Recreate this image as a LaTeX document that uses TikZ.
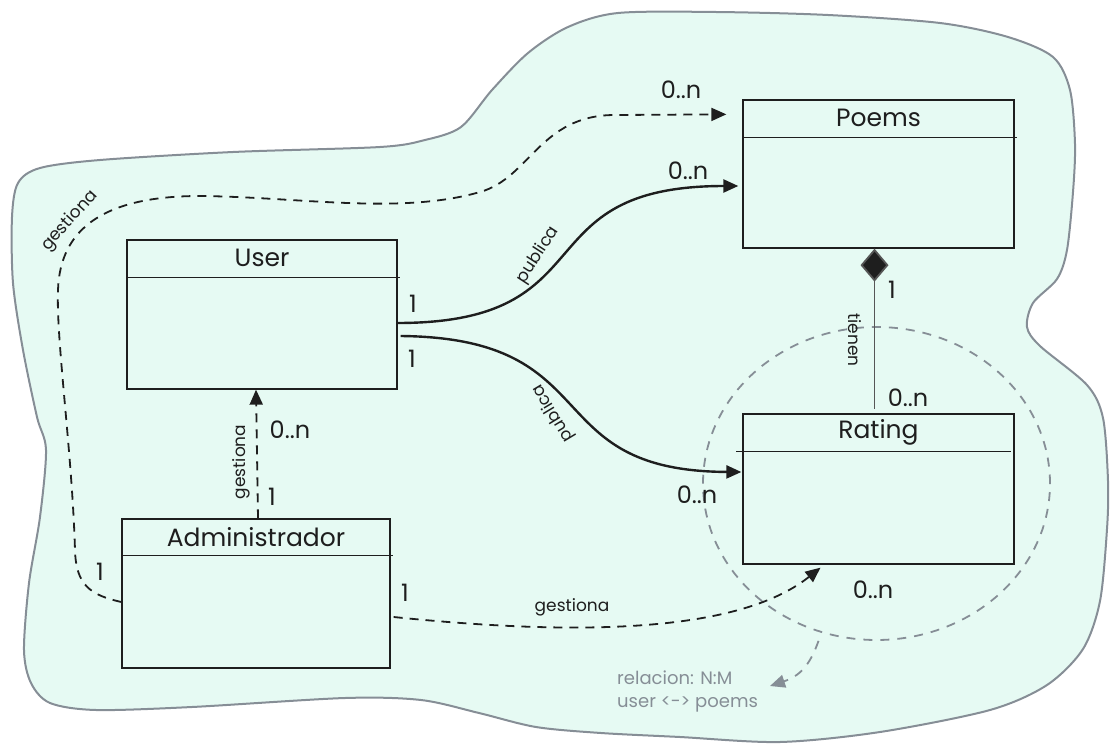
\documentclass[tikz,border=0pt]{standalone}
\usepackage{fontspec}
\setmainfont{Poppins}
\usetikzlibrary{arrows.meta,shapes.geometric}
\definecolor{blobfill}{HTML}{E6FAF3}
\definecolor{blobline}{HTML}{868E96}
\definecolor{ink}{HTML}{1E1E1E}
\tikzset{
  umlbox/.style={draw=ink, line width=1.3pt, inner sep=0pt},
  umltitle/.style={font=\fontsize{25}{27}\selectfont, text=ink, inner sep=0pt},
  mult/.style={font=\fontsize{24}{26}\selectfont, text=ink, inner sep=0pt},
  small/.style={font=\fontsize{17}{19}\selectfont, text=ink, inner sep=0pt},
  note/.style={font=\fontsize{18}{23}\selectfont, text=blobline, inner sep=0pt, align=left},
  solidarrow/.style={draw=ink, line width=2.4pt, -{Triangle[length=15pt,width=13pt]}},
  dasharrow/.style={draw=ink, line width=1.8pt, dash pattern=on 9pt off 7pt, -{Triangle[length=15pt,width=13pt]}},
  graydash/.style={draw=blobline, line width=1.8pt, dash pattern=on 9pt off 8pt},
}
\begin{document}
\begin{tikzpicture}[x=1pt,y=-1pt]
\useasboundingbox (0,0) rectangle (1119,752);
% background blob
\draw[blobline, line width=2pt, fill=blobfill] plot[smooth cycle, tension=0.5] coordinates {
 (40,168) (100,160) (233,152) (380,147) (425,140) (461,127) (492,90) (528,53) (568,27) (618,13)
 (716,12) (828,15) (940,23) (1008,37) (1053,57) (1070,90) (1075,144) (1073,192) (1067,250)
 (1057,279) (1033,303) (1027,327) (1040,346) (1087,385) (1103,418) (1108,481) (1107,529)
 (1100,601) (1083,649) (1047,685) (990,710) (880,732) (780,742) (680,737) (601,733) (536,727)
 (479,713) (421,700) (345,698) (192,707) (96,710) (50,703) (31,683) (24,650) (29,583) (40,517)
 (46,450) (37,417) (23,350) (13,283) (12,217) (18,183)};
% relation ellipse
\node[graydash, ellipse, minimum width=347pt, minimum height=313pt, inner sep=0pt] (rel) at (876.5,483.5) {};
% boxes
\node[umlbox, minimum width=271pt, minimum height=148pt] (poems) at (878.5,174) {};
\node[umlbox, minimum width=270pt, minimum height=149pt] (user) at (262,314.5) {};
\node[umlbox, minimum width=271pt, minimum height=150pt] (rating) at (878.5,489) {};
\node[umlbox, minimum width=268pt, minimum height=149pt] (admin) at (256,593.5) {};
\draw[ink, line width=1.3pt] ([yshift=-38pt]poems.north west) -- ([yshift=-38pt,xshift=2pt]poems.north east);
\draw[ink, line width=1.3pt] ([yshift=-38pt]user.north west) -- ([yshift=-38pt,xshift=2pt]user.north east);
\draw[ink, line width=1.3pt] ([yshift=-38pt,xshift=-6pt]rating.north west) -- ([yshift=-38pt,xshift=-4pt]rating.north east);
\draw[ink, line width=1.3pt] ([yshift=-37pt,xshift=2pt]admin.north west) -- ([yshift=-37pt,xshift=2pt]admin.north east);
\node[umltitle] (poemsT) at ([yshift=-19pt]poems.north) {Poems};
\node[umltitle] (userT) at ([yshift=-19pt]user.north) {User};
\node[umltitle] (ratingT) at ([yshift=-19pt]rating.north) {Rating};
\node[umltitle] (adminT) at ([yshift=-19pt]admin.north) {Administrador};
% user -> poems (publica)
\draw[solidarrow] ([yshift=-8.5pt]user.east) .. controls (610,323) and (520,186) .. ([yshift=-12pt,xshift=-4pt]poems.west);
% user -> rating (publica)
\draw[solidarrow] ([yshift=-21.5pt,xshift=3pt]user.east) .. controls (610,338) and (535,471) .. ([yshift=17pt,xshift=-1pt]rating.west);
% poems <>- rating (tienen)
\draw[draw=ink!75, line width=1.8pt, {Diamond[length=33pt,width=28pt,fill=ink]}-] ([xshift=-4pt]poems.south) -- ([xshift=-4pt,yshift=4pt]rating.north);
% admin -> user (gestiona)
\draw[dasharrow] ([xshift=2pt]admin.north) -- ([xshift=-6pt]user.south);
% admin -> rating (gestiona)
\draw[dasharrow] ([yshift=-23.5pt,xshift=3pt]admin.east) .. controls (540,632) and (730,640) .. ([xshift=-58pt,yshift=-3pt]rating.south);
% admin -> poems (gestiona)
\draw[dasharrow] ([yshift=-8.5pt]admin.west) .. controls (90,595) and (76,585) .. (75,550)
  .. controls (72,450) and (56,340) .. (58,290)
  .. controls (60,228) and (105,196) .. (200,196)
  .. controls (300,197) and (400,215) .. (480,192)
  .. controls (530,178) and (540,115) .. (615,115)
  -- ([xshift=-16pt,yshift=-15pt]poems.north west);
% note arrow
\coordinate (noteTip) at (770,686);
\draw[graydash, -{Triangle[length=15pt,width=13pt]}] ([xshift=-58pt]rel.south) .. controls (810,665) and (800,676) .. (noteTip);
% labels
\node[mult] (m1) at (681,90) {0..n};
\node[small, rotate=48] (g1) at (70,221) {gestiona};
\node[mult] (m2) at (100,572) {1};
\node[mult] (m3) at (405,593) {1};
\node[small] (g2) at (572,607) {gestiona};
\node[mult] (m4) at (873,590) {0..n};
\node[mult] (m5) at (697,495) {0..n};
\node[mult] (m6) at (413,304) {1};
\node[mult] (m7) at (412,359) {1};
\node[small, rotate=57] (p1) at (538,255) {publica};
\node[small, rotate=121] (p2) at (553,413) {publica};
\node[mult] (m8) at (688,171) {0..n};
\node[mult] (m9) at (892,290) {1};
\node[small, rotate=-90] (t1) at (855,340) {tienen};
\node[mult] (m10) at (908,398) {0..n};
\node[small, rotate=90] (g3) at (241,462) {gestiona};
\node[mult] (m11) at (290,430) {0..n};
\node[mult] (m12) at (272,497) {1};
\node[note, anchor=north west] (note) at (617,671) {relacion: N:M\\user <-> poems};
\end{tikzpicture}
\end{document}
